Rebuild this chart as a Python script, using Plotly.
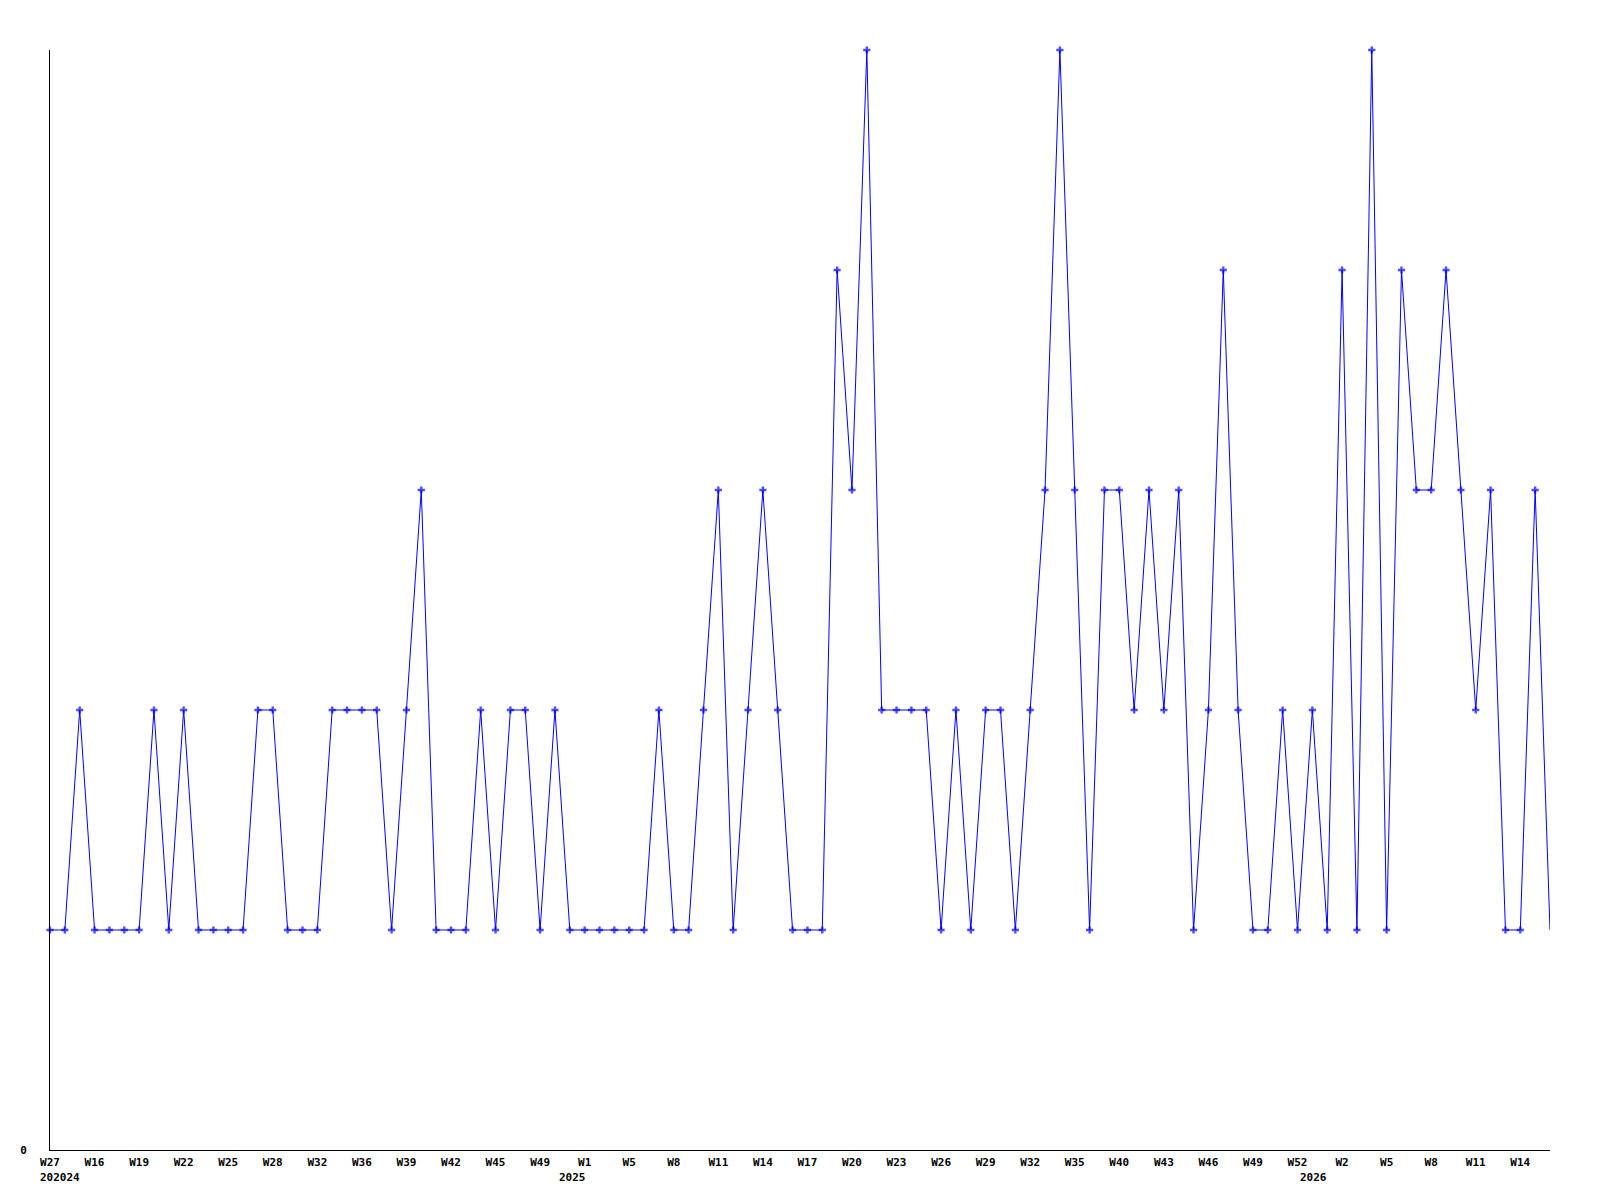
import plotly.graph_objects as go

# Weekly values (one per point)
values = [1, 1, 2, 1, 1, 1, 1, 2, 1, 2,
          1, 1, 1, 1, 2, 2, 1, 1, 1, 2,
          2, 2, 2, 1, 2, 3, 1, 1, 1, 2,
          1, 2, 2, 1, 2, 1, 1, 1, 1, 1,
          1, 2, 1, 1, 2, 3, 1, 2, 3, 2,
          1, 1, 1, 4, 3, 5, 2, 2, 2, 2,
          1, 2, 1, 2, 2, 1, 2, 3, 5, 3,
          1, 3, 3, 2, 3, 2, 3, 1, 2, 4,
          2, 1, 1, 2, 1, 2, 1, 4, 1, 5,
          1, 4, 3, 3, 4, 3, 2, 3, 1, 1,
          3, 1]

tick_labels = ["W27", "W16", "W19", "W22", "W25", "W28", "W32", "W36", "W39",
               "W42", "W45", "W49", "W1", "W5", "W8", "W11", "W14", "W17",
               "W20", "W23", "W26", "W29", "W32", "W35", "W40", "W43", "W46",
               "W49", "W52", "W2", "W5", "W8", "W11", "W14"]
tick_step = 3

year_labels = ["202024", "2025", "2026"]
year_pos = [0.7, 35.2, 85.1]

x = list(range(len(values)))
marker_sizes = [6] * (len(values) - 1) + [0]

font_family = "DejaVu Sans Mono"

fig = go.Figure()
fig.add_trace(go.Scatter(
    x=x, y=values, mode="lines+markers",
    line=dict(color="#0000ff", width=1),
    marker=dict(symbol="cross", size=marker_sizes, color="#0000ff",
                line=dict(width=0)),
    cliponaxis=False, showlegend=False, hoverinfo="y",
))

for label, pos in zip(year_labels, year_pos):
    fig.add_annotation(x=pos, y=0, xref="x", yref="y", text="<b>%s</b>" % label,
                       showarrow=False, xanchor="center", yanchor="top",
                       yshift=-19, font=dict(family=font_family, size=11, color="black"))

fig.update_layout(
    width=1600, height=1200,
    margin=dict(l=42, r=58, t=42, b=58),
    paper_bgcolor="white", plot_bgcolor="white",
    font=dict(family=font_family, size=11, color="black"),
)
fig.update_xaxes(
    range=[0, len(values) - 1],
    tickmode="array",
    tickvals=x[::tick_step][:len(tick_labels)],
    ticktext=["<b>%s</b>" % t for t in tick_labels],
    showgrid=False, zeroline=False, showline=True, linecolor="black", linewidth=1,
    ticks="", tickangle=0, ticklabelstandoff=2,
)
fig.update_yaxes(
    range=[0, 5],
    tickmode="array", tickvals=[0], ticktext=["<b>0</b>"],
    showgrid=False, zeroline=False, showline=True, linecolor="black", linewidth=1,
    ticks="", ticklabelstandoff=20,
)

fig.write_html("out.html")
